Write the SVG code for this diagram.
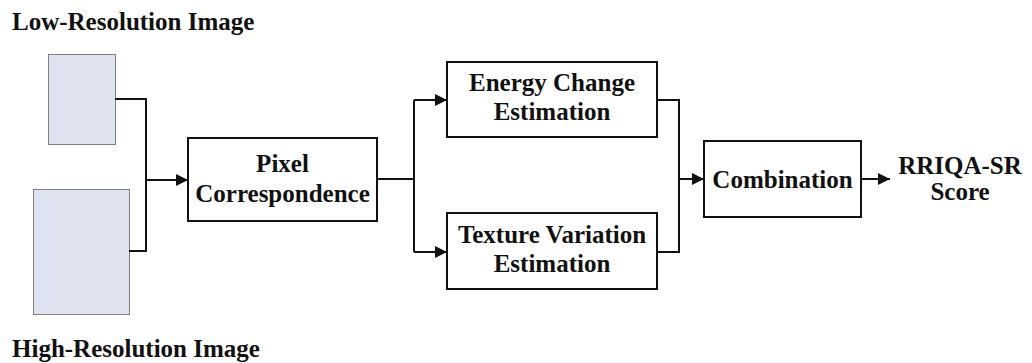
<svg xmlns="http://www.w3.org/2000/svg" width="1032" height="363" viewBox="0 0 1032 363">
<style>
text{font-family:"Liberation Serif","Times New Roman",serif;font-weight:bold;font-size:25px;fill:#111}
.box{fill:#fff;stroke:#111;stroke-width:2}
.img{fill:#dfe3f0;stroke:#808080;stroke-width:1}
.c{fill:none;stroke:#111;stroke-width:2}
</style>
<defs>
<marker id="ah" markerWidth="12" markerHeight="12" refX="12" refY="6" orient="auto" markerUnits="userSpaceOnUse">
<path d="M0,0 L12,6 L0,12 Z" fill="#111"/>
</marker>
</defs>
<g id="low-res">
<rect class="img" x="48.5" y="54.5" width="67" height="90"/>
<text x="12" y="30">Low-Resolution Image</text>
</g>
<g id="high-res">
<rect class="img" x="33.5" y="189.5" width="96" height="125"/>
<text x="12" y="357">High-Resolution Image</text>
</g>
<g id="pixel">
<rect class="box" x="188" y="138" width="189" height="83"/>
<text x="282.5" y="172" text-anchor="middle">Pixel</text>
<text x="282.5" y="202" text-anchor="middle">Correspondence</text>
</g>
<g id="energy">
<rect class="box" x="447" y="62" width="210" height="75"/>
<text x="552" y="91" text-anchor="middle">Energy Change</text>
<text x="552" y="120" text-anchor="middle">Estimation</text>
</g>
<g id="texture">
<rect class="box" x="447" y="213" width="210" height="76"/>
<text x="552" y="243" text-anchor="middle">Texture Variation</text>
<text x="552" y="272" text-anchor="middle">Estimation</text>
</g>
<g id="combination">
<rect class="box" x="704" y="141" width="157" height="76"/>
<text x="782.5" y="188" text-anchor="middle">Combination</text>
</g>
<g id="score">
<text x="960" y="174" text-anchor="middle">RRIQA-SR</text>
<text x="960" y="200" text-anchor="middle">Score</text>
</g>
<g id="connectors">
<path class="c" d="M115,99 H146 V251 H129"/>
<path class="c" d="M146,180 H188" marker-end="url(#ah)"/>
<path class="c" d="M377,179 H414"/>
<path class="c" d="M414,100 V252"/>
<path class="c" d="M414,100 H447" marker-end="url(#ah)"/>
<path class="c" d="M414,252 H447" marker-end="url(#ah)"/>
<path class="c" d="M657,100 H679 V252 H657"/>
<path class="c" d="M679,179 H704" marker-end="url(#ah)"/>
<path class="c" d="M861,179 H890" marker-end="url(#ah)"/>
</g>
</svg>
